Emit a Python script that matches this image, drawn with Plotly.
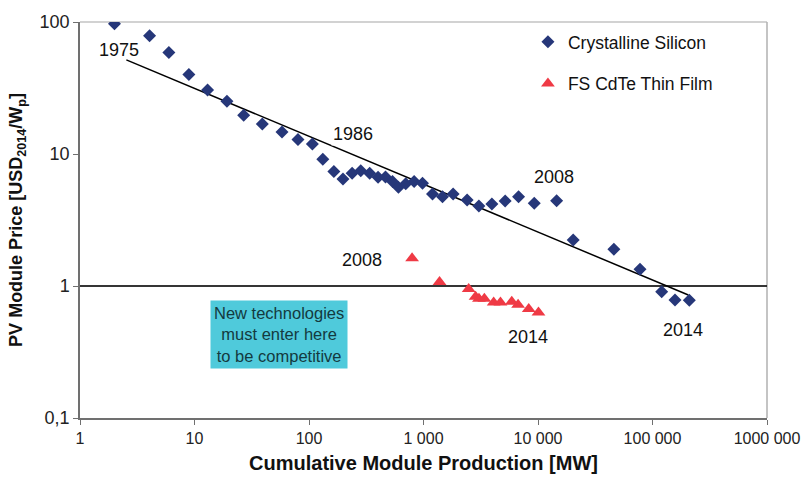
import math
import plotly.graph_objects as go

# Crystalline silicon: cumulative production [MW] and price [USD2014/Wp]
si_prod = [2.0, 4.05, 5.97, 8.93, 13.0, 19.2, 26.9, 39.1, 58.1, 80.1, 107, 132, 165, 198, 238,
           283, 339, 401, 466, 536, 604, 700, 828, 980, 1199, 1466, 1815, 2405, 3044, 3954,
           5166, 6764, 9270, 14550, 20300, 46000, 77800, 120300, 157300, 209700]
si_price = [97, 78.6, 58.7, 40.0, 30.6, 25.1, 19.7, 16.9, 14.7, 12.9, 11.9, 9.13, 7.36, 6.47, 7.15,
            7.48, 7.15, 6.67, 6.7, 6.18, 5.6, 5.94, 6.18, 6.0, 4.98, 4.75, 4.98, 4.49, 4.04, 4.18,
            4.41, 4.75, 4.24, 4.43, 2.23, 1.90, 1.34, 0.905, 0.783, 0.78]

# First Solar CdTe thin film
cdte_prod = [795, 1380, 2480, 2850, 3050, 3400, 4100, 4700, 5900, 6700, 8300, 10100]
cdte_price = [1.62, 1.07, 0.95, 0.83, 0.80, 0.80, 0.75, 0.75, 0.76, 0.72, 0.67, 0.63]

# Learning-curve trend line end points
trend_prod = [2.54, 205600]
trend_price = [51.7, 0.855]

# Reference (competitiveness) level at 1 USD/Wp
ref_prod = [1, 1000000]
ref_price = [1, 1]

x_tickvals = [1, 10, 100, 1000, 10000, 100000, 1000000]
x_ticktext = ["1", "10", "100", "1 000", "10 000", "100 000", "1000 000"]
y_tickvals = [0.1, 1, 10, 100]
y_ticktext = ["0,1", "1", "10", "100"]

FONT = "Liberation Sans, Arial, sans-serif"

fig = go.Figure()
fig.add_trace(go.Scatter(x=ref_prod, y=ref_price, mode="lines",
                         line=dict(color="#000000", width=1.4), showlegend=False,
                         hoverinfo="skip", cliponaxis=False))
fig.add_trace(go.Scatter(x=trend_prod, y=trend_price, mode="lines",
                         line=dict(color="black", width=1.5), showlegend=False,
                         hoverinfo="skip"))
fig.add_trace(go.Scatter(x=si_prod, y=si_price, mode="markers", name="Crystalline Silicon",
                         legendgroup="a",
                         marker=dict(symbol="diamond", size=10, color="#263779")))
fig.add_trace(go.Scatter(x=cdte_prod, y=cdte_price, mode="markers", name="FS CdTe Thin Film",
                         legendgroup="b",
                         marker=dict(symbol="triangle-up", size=12, color="#EF3A45")))

# grey gridline at 10 and frame lines
fig.add_shape(type="line", xref="paper", yref="y", x0=0, x1=1, y0=1, y1=1,
              line=dict(color="#a6a6a6", width=1.2), layer="below")
fig.add_shape(type="line", xref="paper", yref="paper", x0=0, x1=1, y0=1, y1=1,
              line=dict(color="#a6a6a6", width=1.2), layer="below")
fig.add_shape(type="line", xref="paper", yref="paper", x0=1, x1=1, y0=0, y1=1,
              line=dict(color="#b0b0b0", width=1.5), layer="below")

ann_font = dict(family=FONT, size=18, color="#111111")
labels = [("1975", 2.21, 61.5, None), ("1986", 241, 14.2, "white"),
          ("2008", 13700, 6.71, None), ("2008", 292, 1.575, None),
          ("2014", 8244, 0.41, None), ("2014", 184900, 0.464, None)]
for txt, lx, ly, bg in labels:
    a = dict(x=math.log10(lx), y=math.log10(ly), text=txt, showarrow=False,
             font=ann_font, xanchor="center", yanchor="middle")
    if bg:
        a["bgcolor"] = bg
    fig.add_annotation(**a)

fig.add_annotation(x=math.log10(54.9), y=math.log10(0.4326),
                   text="New technologies<br>must enter here<br>to be competitive",
                   showarrow=False, bgcolor="#4fcadb", borderpad=3,
                   font=dict(family=FONT, size=16.5, color="#143a40"),
                   xanchor="center", yanchor="middle")

fig.update_layout(
    width=804, height=477,
    margin=dict(l=80, r=37, t=22, b=59),
    paper_bgcolor="white", plot_bgcolor="white",
    font=dict(family=FONT, size=16, color="#111111"),
    showlegend=True,
    legend=dict(x=0.652, y=0.995, xanchor="left", yanchor="top",
                bgcolor="rgba(0,0,0,0)", tracegroupgap=16, traceorder="grouped",
                font=dict(family=FONT, size=17.5, color="#111111")),
    xaxis=dict(type="log", range=[0, 6], tickvals=x_tickvals, ticktext=x_ticktext,
               automargin=False,
               showgrid=False, zeroline=False, showline=True, linecolor="#707070",
               linewidth=1.5, ticks="outside", ticklen=5, tickcolor="#707070",
               tickfont=dict(family=FONT, size=16, color="#222222"),
               title=dict(text="<b>Cumulative Module Production [MW]</b>",
                          font=dict(family=FONT, size=20, color="#111111"), standoff=10)),
    yaxis=dict(type="log", range=[-1, 2], tickvals=y_tickvals, ticktext=y_ticktext,
               automargin=False,
               showgrid=False, zeroline=False,
               showline=True, linecolor="#707070", linewidth=1.5,
               ticks="outside", ticklen=5, tickcolor="#707070",
               tickfont=dict(family=FONT, size=18, color="#222222"),
               title=dict(text="<b>PV Module Price [USD<sub>2014</sub>/W<sub>p</sub>]</b>",
                          font=dict(family=FONT, size=18, color="#111111"), standoff=12)),
)

fig.write_html("out.html", config={"displayModeBar": False},
               post_script="document.body.style.margin='0px';")
